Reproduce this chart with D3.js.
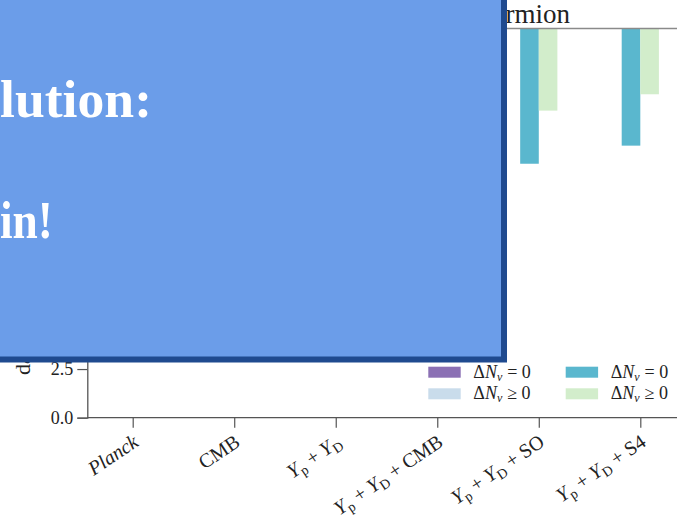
<!DOCTYPE html>
<html><head><meta charset="utf-8">
<script src="https://cdn.jsdelivr.net/npm/d3@7"></script>
<style>
html,body{margin:0;padding:0;background:#fff;overflow:hidden}
svg{display:block}
</style></head>
<body>
<svg id="c" width="677" height="519"></svg>
<script>
// ---- data ----
const categories = ["Planck", "CMB", "Yp+YD", "Yp+YD+CMB", "Yp+YD+SO", "Yp+YD+S4"];
// tick label pieces: [text, style] ; style: "i" italic, "sub" subscript, "" roman
const tickLabels = [
  [["Planck","i"]],
  [["CMB",""]],
  [["Y","i"],["p","sub"],[" + ",""],["Y","i"],["D","sub"]],
  [["Y","i"],["p","sub"],[" + ",""],["Y","i"],["D","sub"],[" + CMB",""]],
  [["Y","i"],["p","sub"],[" + ",""],["Y","i"],["D","sub"],[" + SO",""]],
  [["Y","i"],["p","sub"],[" + ",""],["Y","i"],["D","sub"],[" + S4",""]]
];
// bars hang from the top of the axis (20) down to the value
const majoranaEq0 = [null, null, null, null, null, null];
const majoranaGe0 = [null, null, null, null, null, null];
const diracEq0    = [null, null, null, null, 13.05, 13.98];
const diracGe0    = [null, null, null, null, 15.78, 16.62];
const yTicks = [0, 2.5, 5, 7.5, 10, 12.5, 15, 17.5, 20];
const yTickLabelsShown = [0, 2.5];          // the others sit behind the overlay box
const legendLabels = ["= 0", "≥ 0", "= 0", "≥ 0"];
const seriesColors = ["#8b70b4", "#c9dceb", "#5ab7ce", "#d2edcb"];
const titleText = "Dirac fermion";
const yLabelText = "dark fermion";
const boxLine1 = "lution:";
const boxLine2 = "in!";

// ---- drawing ----
const svg = d3.select("#c");
const serif = "'Liberation Serif', 'DejaVu Serif', serif";
const x = d3.scalePoint().domain(categories).range([132.7, 640.3]);
const inner = d3.scaleBand().domain(["eq", "ge"]).range([-18.6, 18.6]);
const y = d3.scaleLinear().domain([0, 20]).range([417.7, 28.5]);

const series = [
  {key:"eq", vals: majoranaEq0, color: seriesColors[0]},
  {key:"ge", vals: majoranaGe0, color: seriesColors[1]},
  {key:"eq", vals: diracEq0, color: seriesColors[2]},
  {key:"ge", vals: diracGe0, color: seriesColors[3]}
];
const yTop = y.domain()[1];
series.forEach(s => {
  svg.append("g").selectAll("rect")
    .data(s.vals.map((v, i) => ({v, c: categories[i]})).filter(d => d.v != null))
    .join("rect")
    .attr("x", d => x(d.c) + inner(s.key))
    .attr("width", inner.bandwidth())
    .attr("y", y(yTop))
    .attr("height", d => y(d.v) - y(yTop))
    .attr("fill", s.color);
});

// top spine
svg.append("line").attr("x1", 87.3).attr("x2", 677).attr("y1", y(yTop)).attr("y2", y(yTop))
  .attr("stroke", "#8a8a8a").attr("stroke-width", 1.5);

// y axis
const yAxis = svg.append("g").attr("transform", "translate(87.3,0)")
  .call(d3.axisLeft(y).tickValues(yTicks).tickSize(10).tickPadding(4)
    .tickFormat(d => yTickLabelsShown.includes(d) ? d3.format(".1f")(d) : ""));
yAxis.select(".domain").attr("stroke", "#555").attr("stroke-width", 1.3);
yAxis.selectAll(".tick line").attr("stroke", "#555").attr("stroke-width", 1.2);
yAxis.selectAll(".tick text").attr("font-family", serif).attr("font-size", 18).attr("fill", "#222");

// x axis
const xAxis = svg.append("g").attr("transform", `translate(0,${y(0)})`)
  .call(d3.axisBottom(x).tickSize(10).tickFormat(""));
xAxis.select(".domain").attr("d", `M87.3,0H677`).attr("stroke", "#555").attr("stroke-width", 1.3);
xAxis.selectAll(".tick line").attr("stroke", "#555").attr("stroke-width", 1.2);

// rotated tick labels
categories.forEach((c, i) => {
  const t = svg.append("text")
    .attr("transform", `translate(${x(c) + 7},${445}) rotate(-34)`)
    .attr("text-anchor", "end")
    .attr("font-family", serif).attr("font-size", 20).attr("fill", "#222");
  let shifted = false;
  tickLabels[i].forEach(([txt, st]) => {
    const sp = t.append("tspan").text(txt);
    if (st === "i") sp.attr("font-style", "italic");
    if (st === "sub") { sp.attr("font-size", 14).attr("dy", shifted ? 0 : 4); shifted = true; }
    else if (shifted) { sp.attr("dy", -4); shifted = false; }
  });
});

// y label (mostly hidden behind box)
svg.append("text")
  .attr("transform", "translate(30,375) rotate(-90)")
  .attr("font-family", serif).attr("font-size", 22).attr("fill", "#222")
  .text(yLabelText);

// title
svg.append("text").attr("x", 570).attr("y", 23).attr("text-anchor", "end")
  .attr("font-family", serif).attr("font-size", 27).attr("fill", "#222").text(titleText);

// legend
const legX = [428.3, 565.7];
const legY = [372.2, 393.8];
[0, 1, 2, 3].forEach(k => {
  const col = k < 2 ? 0 : 1, row = k % 2;
  svg.append("rect").attr("x", legX[col]).attr("y", legY[row] - 5.5)
    .attr("width", 32.4).attr("height", 11).attr("fill", seriesColors[k]);
  const t = svg.append("text").attr("x", legX[col] + 45).attr("y", legY[row] + 5.5)
    .attr("font-family", serif).attr("font-size", 18).attr("fill", "#222");
  t.append("tspan").text("Δ");
  t.append("tspan").attr("font-style", "italic").text("N");
  t.append("tspan").attr("font-style", "italic").attr("font-size", 12).attr("dy", 3).text("ν");
  t.append("tspan").attr("dy", -3).attr("dx", 5).text(legendLabels[k]);
});

// overlay box
svg.append("rect").attr("x", -20).attr("y", -20).attr("width", 524).attr("height", 379.5)
  .attr("fill", "#6b9de9").attr("stroke", "#1f4a8f").attr("stroke-width", 6);
svg.append("text").attr("x", 0).attr("y", 117)
  .attr("textLength", 152).attr("lengthAdjust", "spacingAndGlyphs")
  .attr("font-family", serif).attr("font-weight", "bold").attr("font-size", 53).attr("fill", "#fff")
  .text(boxLine1);
svg.append("text").attr("x", 0).attr("y", 238)
  .attr("textLength", 53).attr("lengthAdjust", "spacingAndGlyphs")
  .attr("font-family", serif).attr("font-weight", "bold").attr("font-size", 53).attr("fill", "#fff")
  .text(boxLine2);
</script>
</body></html>
